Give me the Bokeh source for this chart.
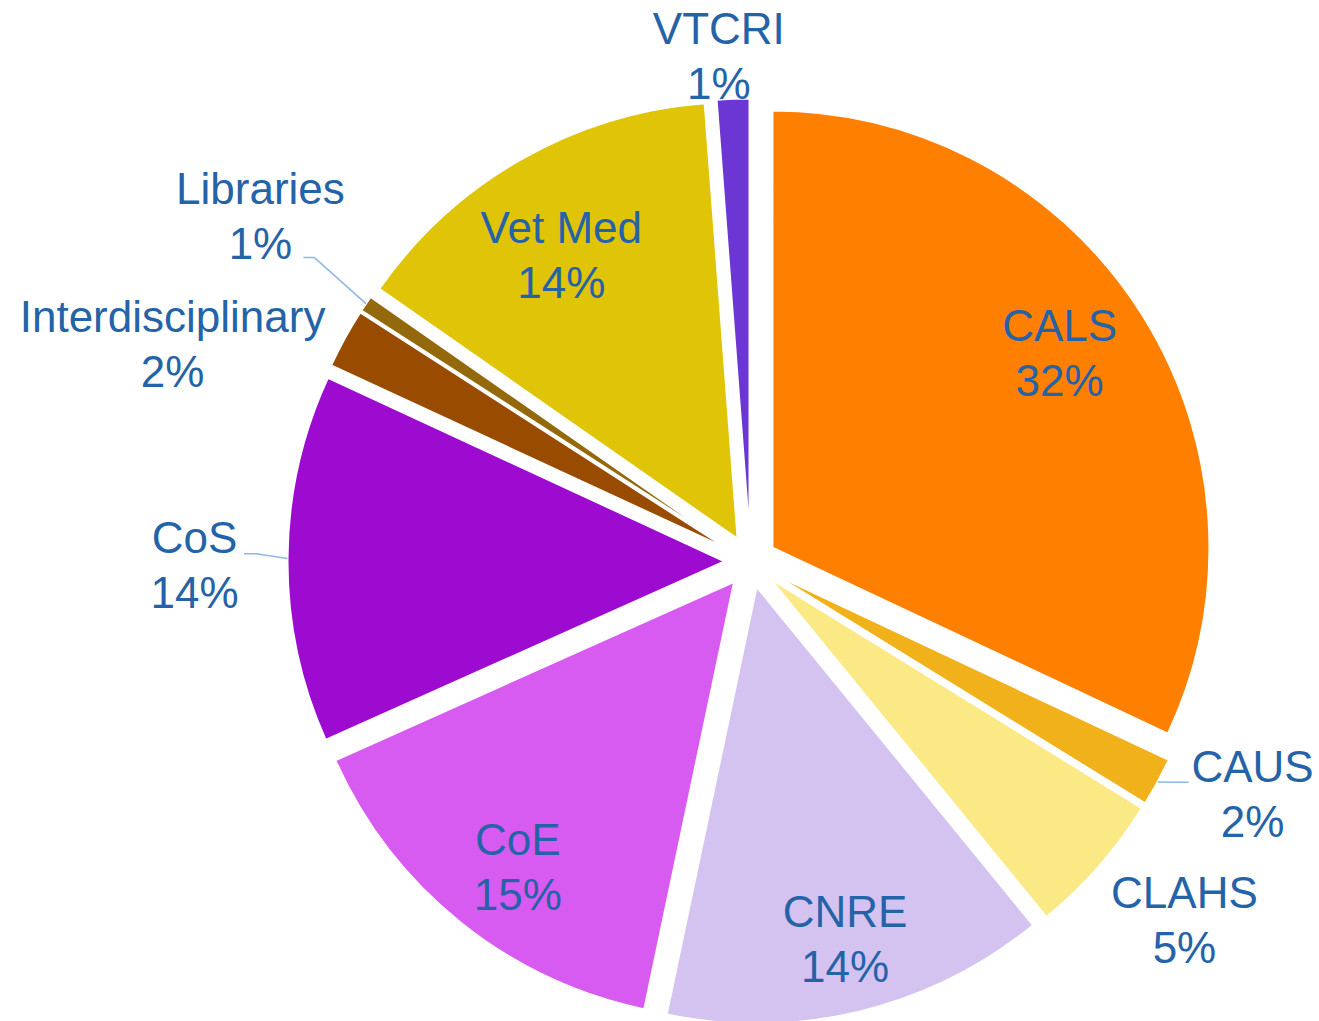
import numpy as np
from bokeh.plotting import figure
from bokeh.models import Range1d, ColumnDataSource
from bokeh.embed import file_html
from bokeh.resources import INLINE
from bokeh.core.properties import value

# ---------------- data ----------------
labels = ["CALS", "CAUS", "CLAHS", "CNRE", "CoE", "CoS",
          "Interdisciplinary", "Libraries", "Vet Med", "VTCRI"]
shares = [32.0, 1.8, 5.3, 14.2, 15.0, 13.6, 2.2, 0.6, 14.1, 1.2]
colors = ["#FF8000", "#F1B11B", "#FAE985", "#D4C3F1", "#D85BF1",
          "#9E0BD0", "#994C00", "#94690B", "#DFC408", "#6C36D4"]

# ---------------- layout ----------------
W, H = 1319, 1021
CX, CY = 750, H - 561             # pie centre (data units = pixels)
R = 437                           # radius
EXPLODE = 26                      # outward offset of each slice
# label anchor: clockwise angle from north (deg) and distance from centre
label_ang = [56.2, 115.0, 129.7, 166.0, 217.2, 269.5, 290.5, 305.1, 328.2, 356.4]
label_dist = [372, 554, 564, 391, 385, 556, 617, 599, 359, 505]
# leader lines: (elbow dx, dy, end dx, dy) relative to label anchor
leaders = {"CAUS": (-74, 13.5, -64, 13.5),
           "CoS": (61.5, 12.5, 49.5, 12.5),
           "Libraries": (54, -40.5, 43, -40.5)}
TEXT_COLOR = "#2563A8"
LEADER_COLOR = "#8DB8E6"
FONT = "Liberation Sans"
FONT_SIZE = "44px"
TEXT_ADJ = 17                     # baseline correction of the renderer

# ---------------- geometry from data ----------------
vals = np.array(shares, dtype=float)
frac = vals / vals.sum()
cum_end = np.cumsum(frac)
cum_start = cum_end - frac
theta0 = cum_start * 2 * np.pi          # clockwise from north
theta1 = cum_end * 2 * np.pi
mid = (theta0 + theta1) / 2

sx = CX + EXPLODE * np.sin(mid)
sy = CY + EXPLODE * np.cos(mid)

src = ColumnDataSource(dict(
    x=sx, y=sy,
    start=np.pi / 2 - theta0,
    end=np.pi / 2 - theta1,
    color=colors,
))

p = figure(width=W, height=H, x_range=Range1d(0, W), y_range=Range1d(0, H),
           min_border=0, x_axis_location=None, y_axis_location=None,
           toolbar_location=None, output_backend="svg")
p.grid.visible = False
p.outline_line_color = None
p.background_fill_color = "white"
p.border_fill_color = "white"

p.wedge(x="x", y="y", radius=R, start_angle="start", end_angle="end",
        direction="clock", fill_color="color", line_color="white",
        line_width=2, source=src)

# labels
ax, ay, names, pcts, ny, py = [], [], [], [], [], []
for i, lab in enumerate(labels):
    a = np.deg2rad(label_ang[i])
    x = CX + label_dist[i] * np.sin(a)
    y = CY + label_dist[i] * np.cos(a)
    ax.append(x)
    ay.append(y)
    names.append(lab)
    pcts.append(f"{int(round(frac[i] * 100))}%")
    ny.append(y + 12 + TEXT_ADJ)
    py.append(y - 43 + TEXT_ADJ)

tsrc = ColumnDataSource(dict(x=ax, name=names, pct=pcts, ny=ny, py=py))
p.text(x="x", y="ny", text="name", source=tsrc, text_align="center",
       text_baseline="alphabetic", text_color=TEXT_COLOR,
       text_font=value(FONT), text_font_size=FONT_SIZE)
p.text(x="x", y="py", text="pct", source=tsrc, text_align="center",
       text_baseline="alphabetic", text_color=TEXT_COLOR,
       text_font=value(FONT), text_font_size=FONT_SIZE)

# leader lines
for lab, (ex, ey, tx, ty) in leaders.items():
    i = labels.index(lab)
    edge_x = sx[i] + R * np.sin(mid[i])
    edge_y = sy[i] + R * np.cos(mid[i])
    xs = [edge_x, ax[i] + ex, ax[i] + tx]
    ys = [edge_y, ay[i] + ey, ay[i] + ty]
    p.line(xs, ys, line_color=LEADER_COLOR, line_width=1.5)

open("out.html", "w").write(file_html(p, INLINE))
